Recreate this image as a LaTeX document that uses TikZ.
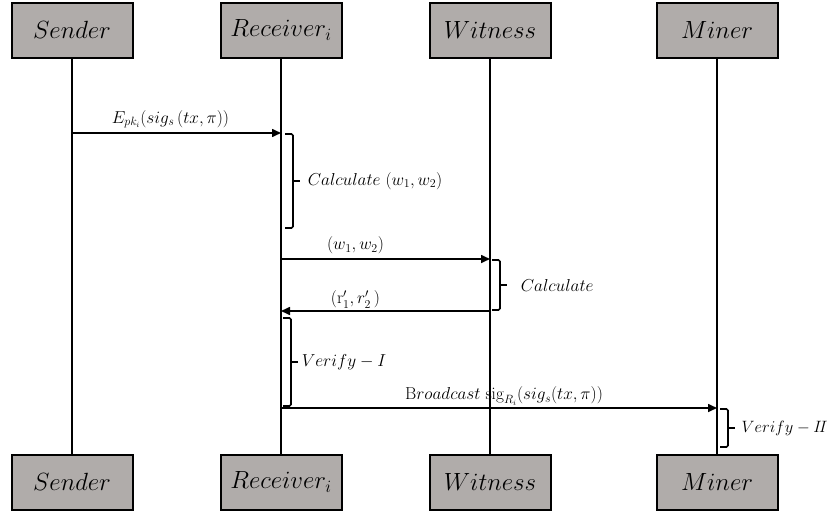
\documentclass[tikz,border=0pt]{standalone}
\usetikzlibrary{arrows.meta}
\definecolor{boxgray}{RGB}{176,172,170}
\begin{document}
\begin{tikzpicture}[x=1pt,y=-1pt,
 actor/.style={draw=black, fill=boxgray, line width=2pt, minimum width=121pt, minimum height=55pt, inner sep=0pt, font=\fontsize{26}{28}\selectfont},
 life/.style={line width=2pt},
 msg/.style={line width=1.6pt, -{Triangle[length=9pt,width=8pt]}},
 brc/.style={line width=1.6pt, rounded corners=1.5pt},
 lbl/.style={font=\fontsize{16.5}{19}\selectfont, inner sep=1pt}]
\useasboundingbox (0,0) rectangle (831,514);
% actors top
\node[actor] (s1) at (72,30) {$Sender$};
\node[actor] (r1) at (281,30) {$Receiver_i$};
\node[actor] (w1) at (490,30) {$Witness$};
\node[actor] (m1) at (717,30) {$Miner$};
% actors bottom
\node[actor] (s2) at (72,482) {$Sender$};
\node[actor] (r2) at (281,482) {$Receiver_i$};
\node[actor] (w2) at (490,482) {$Witness$};
\node[actor] (m2) at (717,482) {$Miner$};
% lifelines
\draw[life] (s1.south) -- (s2.north);
\draw[life] (r1.south) -- (r2.north);
\draw[life] (w1.south) -- (w2.north);
\draw[life] (m1.south) -- (m2.north);
% points on lifelines
\coordinate (sA) at (72,133);
\coordinate (rA) at (281,133);
\coordinate (rB) at (281,259);
\coordinate (wB) at (490,259);
\coordinate (wC) at (490,311);
\coordinate (rC) at (281,311);
\coordinate (rD) at (281,408);
\coordinate (mD) at (717,408);
% messages
\draw[msg] (sA) -- node[lbl, above=3pt, xshift=-6pt] {$E_{pk_i}(sig_s\,(tx,\pi))$} (rA);
\draw[msg] (rB) -- node[lbl, above=3pt, xshift=-30pt] {$(w_1,w_2)$} (wB);
\draw[msg] (wC) -- node[lbl, above=1pt, xshift=-30pt] {$(\mathrm{r}_1',r_2'\,)$} (rC);
\draw[msg] (rD) -- node[lbl, above=1pt, xshift=5pt] {$\mathrm{B}roadcast\ \mathrm{sig}_{R_i}(sig_s(tx,\pi))$} (mD);
% braces
\draw[brc] (285,134) -- (293,134) -- (293,228) -- (285,228);
\draw[brc] (293,181) -- (300,181) node[lbl, anchor=west, xshift=6pt] (t1) {$Calculate\ (w_1,w_2)$};
\draw[brc] (492,260) -- (500,260) -- (500,310) -- (492,310);
\draw[brc] (500,285) -- (507,285) node[lbl, anchor=west, xshift=12pt] (t2) {$Calculate$};
\draw[brc] (283,318) -- (291,318) -- (291,406) -- (283,406);
\draw[brc] (291,362) -- (298,362) node[lbl, anchor=west, xshift=2pt] (t3) {$Verify-I$};
\draw[brc] (720,409) -- (728,409) -- (728,447) -- (720,447);
\draw[brc] (728,428) -- (735,428) node[lbl, anchor=west, xshift=5pt, scale=0.95] (t4) {$Verify-I\!I$};
\end{tikzpicture}
\end{document}
